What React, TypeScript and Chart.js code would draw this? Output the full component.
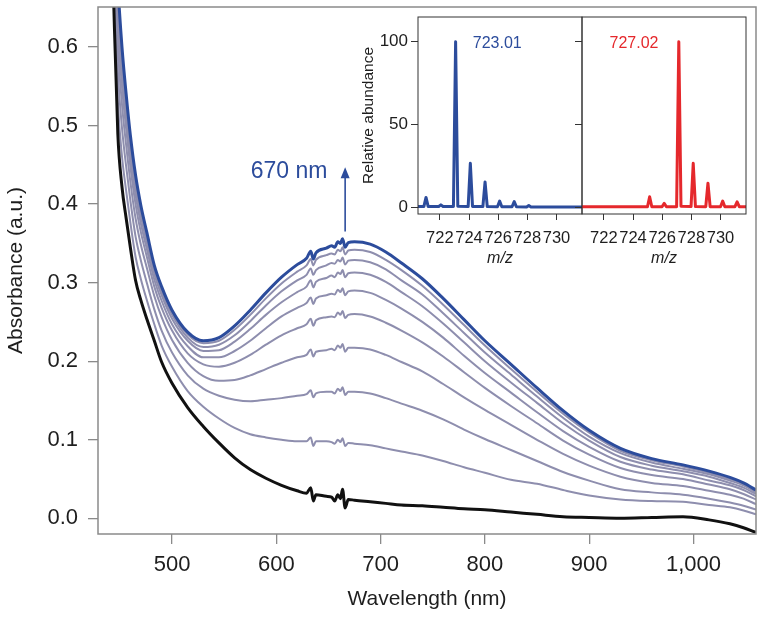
import React, { useEffect, useRef } from "react";
import { Chart, registerables } from "chart.js";

Chart.register(...registerables);

const FONT = '"Liberation Sans", Arial, Helvetica, sans-serif';
const BLUE = "#2c4c9c";
const RED = "#e5282c";
const GREY = "#8e8eae";
const TEXT = "#1e1e1e";
const FRAME = "#8a8a8a";
const INSET_FRAME = "#333333";

// ---------- main UV-vis spectra ----------
const WAVELENGTH = [440, 444, 448, 452, 456, 460, 465, 470, 476, 483, 490, 500, 515, 530, 545, 560, 575, 590, 605, 620, 629, 633, 635.5, 638, 648, 653, 656, 659, 661.5, 663.5, 666, 669, 675, 690, 705, 720, 740, 760, 780, 800, 825, 850, 875, 900, 930, 960, 990, 1015, 1035, 1048, 1060];

const ABS_FINAL = [0.95, 0.79, 0.68, 0.6, 0.54, 0.488, 0.437, 0.399, 0.363, 0.322, 0.295, 0.265, 0.237, 0.226, 0.23, 0.245, 0.265, 0.287, 0.307, 0.323, 0.331, 0.34, 0.33, 0.338, 0.344, 0.347, 0.345, 0.352, 0.35, 0.356, 0.345, 0.351, 0.352, 0.349, 0.339, 0.325, 0.305, 0.28, 0.253, 0.226, 0.196, 0.166, 0.137, 0.112, 0.089, 0.076, 0.068, 0.06, 0.052, 0.045, 0.036];

const ABS_START = [0.86, 0.66, 0.49, 0.422, 0.382, 0.345, 0.303, 0.278, 0.253, 0.226, 0.199, 0.172, 0.141, 0.117, 0.096, 0.077, 0.062, 0.051, 0.042, 0.035, 0.032, 0.039, 0.022, 0.03, 0.028, 0.027, 0.022, 0.03, 0.025, 0.037, 0.013, 0.024, 0.023, 0.021, 0.019, 0.017, 0.016, 0.014, 0.012, 0.011, 0.008, 0.005, 0.002, 0.001, 0.0, 0.001, 0.002, -0.002, -0.007, -0.012, -0.018];

const ABS_T1 = [0.88, 0.689, 0.532, 0.461, 0.417, 0.377, 0.333, 0.305, 0.277, 0.247, 0.22, 0.193, 0.162, 0.142, 0.127, 0.115, 0.107, 0.103, 0.1, 0.098, 0.098, 0.103, 0.092, 0.098, 0.098, 0.097, 0.095, 0.1, 0.097, 0.102, 0.092, 0.096, 0.095, 0.093, 0.089, 0.085, 0.08, 0.073, 0.065, 0.058, 0.049, 0.044, 0.036, 0.029, 0.024, 0.022, 0.021, 0.017, 0.014, 0.01, 0.005];

const ABS_T2 = [0.898, 0.715, 0.57, 0.497, 0.448, 0.405, 0.359, 0.329, 0.299, 0.266, 0.239, 0.211, 0.182, 0.165, 0.156, 0.151, 0.149, 0.151, 0.153, 0.156, 0.158, 0.163, 0.154, 0.159, 0.161, 0.161, 0.159, 0.165, 0.162, 0.167, 0.157, 0.161, 0.161, 0.159, 0.153, 0.146, 0.137, 0.126, 0.113, 0.101, 0.087, 0.073, 0.059, 0.048, 0.037, 0.033, 0.03, 0.025, 0.02, 0.016, 0.011];

const ABS_T3 = [0.913, 0.737, 0.602, 0.527, 0.475, 0.429, 0.382, 0.349, 0.318, 0.283, 0.256, 0.227, 0.198, 0.181, 0.175, 0.176, 0.182, 0.19, 0.198, 0.205, 0.208, 0.215, 0.206, 0.212, 0.214, 0.216, 0.214, 0.22, 0.217, 0.222, 0.212, 0.217, 0.217, 0.215, 0.208, 0.199, 0.187, 0.171, 0.154, 0.138, 0.119, 0.1, 0.082, 0.067, 0.053, 0.045, 0.041, 0.035, 0.03, 0.025, 0.018];

const ABS_T4 = [0.925, 0.754, 0.627, 0.55, 0.496, 0.448, 0.4, 0.365, 0.332, 0.295, 0.268, 0.239, 0.21, 0.196, 0.193, 0.198, 0.208, 0.221, 0.233, 0.242, 0.247, 0.254, 0.245, 0.252, 0.256, 0.257, 0.256, 0.262, 0.259, 0.264, 0.255, 0.259, 0.26, 0.257, 0.249, 0.239, 0.224, 0.206, 0.186, 0.166, 0.143, 0.121, 0.099, 0.081, 0.064, 0.055, 0.05, 0.043, 0.037, 0.031, 0.024];

const ABS_T5 = [0.933, 0.765, 0.644, 0.566, 0.51, 0.461, 0.412, 0.376, 0.342, 0.304, 0.277, 0.247, 0.219, 0.205, 0.205, 0.213, 0.226, 0.242, 0.257, 0.268, 0.274, 0.281, 0.273, 0.28, 0.284, 0.286, 0.285, 0.291, 0.288, 0.293, 0.284, 0.289, 0.29, 0.287, 0.278, 0.267, 0.25, 0.23, 0.207, 0.185, 0.16, 0.135, 0.111, 0.091, 0.072, 0.062, 0.056, 0.048, 0.042, 0.036, 0.028];

const ABS_T6 = [0.939, 0.774, 0.657, 0.579, 0.521, 0.471, 0.421, 0.385, 0.35, 0.311, 0.284, 0.254, 0.226, 0.213, 0.214, 0.225, 0.241, 0.259, 0.275, 0.288, 0.295, 0.303, 0.294, 0.301, 0.306, 0.309, 0.307, 0.313, 0.311, 0.316, 0.307, 0.312, 0.313, 0.31, 0.301, 0.288, 0.27, 0.248, 0.224, 0.2, 0.173, 0.147, 0.121, 0.099, 0.078, 0.067, 0.06, 0.053, 0.045, 0.039, 0.031];

const ABS_T7 = [0.944, 0.781, 0.667, 0.588, 0.529, 0.478, 0.428, 0.391, 0.355, 0.315, 0.288, 0.259, 0.23, 0.218, 0.221, 0.233, 0.251, 0.271, 0.289, 0.303, 0.31, 0.318, 0.31, 0.316, 0.322, 0.325, 0.324, 0.329, 0.327, 0.332, 0.323, 0.328, 0.329, 0.326, 0.317, 0.303, 0.285, 0.261, 0.236, 0.211, 0.183, 0.155, 0.128, 0.104, 0.083, 0.071, 0.063, 0.056, 0.048, 0.042, 0.033];

const ABS_T8 = [0.947, 0.786, 0.674, 0.595, 0.535, 0.484, 0.433, 0.395, 0.36, 0.319, 0.292, 0.262, 0.234, 0.223, 0.226, 0.24, 0.259, 0.28, 0.299, 0.314, 0.322, 0.33, 0.322, 0.329, 0.335, 0.337, 0.336, 0.342, 0.34, 0.345, 0.336, 0.341, 0.342, 0.339, 0.329, 0.316, 0.296, 0.272, 0.246, 0.22, 0.19, 0.161, 0.133, 0.109, 0.086, 0.074, 0.066, 0.058, 0.05, 0.044, 0.035];

const X_TICKS = [500, 600, 700, 800, 900, 1000];
const Y_TICKS = [0, 0.1, 0.2, 0.3, 0.4, 0.5, 0.6];
const X_RANGE = [429, 1060];
const Y_RANGE = [-0.02, 0.651];

const ARROW_NM = 666;
const ARROW_FROM = 0.365;
const ARROW_TO = 0.447;
const ARROW_LABEL = "670 nm";
const ARROW_LABEL_NM = 649;
const ARROW_LABEL_ABS = 0.441;

// ---------- inset mass spectra ----------
const MZ_A = [720.5, 720.9, 721.05, 721.2, 721.92, 722.07, 722.22, 722.93, 723.08, 723.23, 723.94, 724.09, 724.24, 724.95, 725.1, 725.25, 725.95, 726.1, 726.25, 726.95, 727.1, 727.25, 727.95, 728.1, 728.25, 731.75];
const ABUND_A = [0.3, 0.3, 5.8, 0.3, 0.3, 1.3, 0.3, 0.3, 100, 0.5, 0.3, 26.5, 0.4, 0.3, 15.2, 0.3, 0.2, 3.6, 0.2, 0.2, 3.3, 0.2, 0.1, 1.0, 0.1, 0.1];
const MZ_B = [720.5, 724.99, 725.14, 725.29, 725.99, 726.14, 726.29, 726.99, 727.14, 727.29, 727.98, 728.13, 728.28, 728.99, 729.14, 729.29, 730.0, 730.15, 730.3, 730.99, 731.14, 731.29, 731.75];
const ABUND_B = [0.2, 0.2, 6.2, 0.2, 0.2, 2.2, 0.2, 0.2, 100, 0.5, 0.3, 26.5, 0.3, 0.2, 14.4, 0.2, 0.2, 3.6, 0.2, 0.2, 3.2, 0.2, 0.2];
const MZ_TICKS = [722, 724, 726, 728, 730];
const AB_TICKS = [0, 50, 100];
const MZ_RANGE = [720.5, 731.75];
const AB_RANGE = [-4.2, 115];
const LABEL_A = "723.01";
const LABEL_B = "727.02";
const LABEL_A_POS = [724.26, 99];
const LABEL_B_POS = [722.39, 99];

const fixBox = (w: number | null, h: number | null) => (s: any) => {
  if (w !== null) s.width = w;
  if (h !== null) s.height = h;
  s.paddingTop = 0;
  s.paddingBottom = 0;
  s.paddingLeft = 0;
  s.paddingRight = 0;
};

const setTicks = (vals: number[]) => (s: any) => {
  s.ticks = vals.map((v) => ({ value: v }));
};

const framePlugin = (color: string, width: number) => ({
  id: "frame",
  afterDraw(chart: any) {
    const { ctx, chartArea: a } = chart;
    ctx.save();
    ctx.strokeStyle = color;
    ctx.lineWidth = width;
    ctx.strokeRect(a.left, a.top, a.right - a.left, a.bottom - a.top);
    ctx.restore();
  },
});

const arrowPlugin = {
  id: "arrow",
  afterDraw(chart: any) {
    const { ctx, scales } = chart;
    const x = scales.x;
    const y = scales.y;
    const ax = x.getPixelForValue(ARROW_NM);
    const y0 = y.getPixelForValue(ARROW_FROM);
    const y1 = y.getPixelForValue(ARROW_TO);
    ctx.save();
    ctx.strokeStyle = BLUE;
    ctx.fillStyle = BLUE;
    ctx.lineWidth = 1.6;
    ctx.beginPath();
    ctx.moveTo(ax, y0);
    ctx.lineTo(ax, y1 + 8);
    ctx.stroke();
    ctx.beginPath();
    ctx.moveTo(ax, y1);
    ctx.lineTo(ax - 4.5, y1 + 11);
    ctx.lineTo(ax + 4.5, y1 + 11);
    ctx.closePath();
    ctx.fill();
    ctx.font = `23px ${FONT}`;
    ctx.textAlign = "right";
    ctx.textBaseline = "middle";
    ctx.fillText(ARROW_LABEL, x.getPixelForValue(ARROW_LABEL_NM), y.getPixelForValue(ARROW_LABEL_ABS));
    ctx.restore();
  },
};

const peakLabelPlugin = (text: string, pos: number[], color: string) => ({
  id: "peakLabel",
  afterDraw(chart: any) {
    const { ctx, scales } = chart;
    ctx.save();
    ctx.fillStyle = color;
    ctx.font = `16px ${FONT}`;
    ctx.textAlign = "left";
    ctx.textBaseline = "middle";
    ctx.fillText(text, scales.x.getPixelForValue(pos[0]), scales.y.getPixelForValue(pos[1]));
    ctx.restore();
  },
});

function buildMain(canvas: HTMLCanvasElement) {
  const series = [
    { v: ABS_FINAL, c: BLUE, w: 3 },
    { v: ABS_START, c: "#111111", w: 3 },
    { v: ABS_T8, c: GREY, w: 2 },
    { v: ABS_T7, c: GREY, w: 2 },
    { v: ABS_T6, c: GREY, w: 2 },
    { v: ABS_T5, c: GREY, w: 2 },
    { v: ABS_T4, c: GREY, w: 2 },
    { v: ABS_T3, c: GREY, w: 2 },
    { v: ABS_T2, c: GREY, w: 2 },
    { v: ABS_T1, c: GREY, w: 2 },
  ];
  const datasets = series.map((s) => ({
    data: WAVELENGTH.map((w, i) => ({ x: w, y: s.v[i] })),
    borderColor: s.c,
    borderWidth: s.w,
    pointRadius: 0,
    fill: false,
    cubicInterpolationMode: "monotone" as const,
  }));
  return new Chart(canvas, {
    type: "line",
    data: { datasets },
    options: {
      animation: false,
      responsive: false,
      events: [],
      layout: { padding: { left: 0, right: 8, top: 7, bottom: 0 } },
      plugins: { legend: { display: false }, tooltip: { enabled: false } },
      scales: {
        x: {
          type: "linear",
          min: X_RANGE[0],
          max: X_RANGE[1],
          afterBuildTicks: setTicks(X_TICKS),
          afterFit: fixBox(null, 86),
          border: { display: false },
          grid: { drawOnChartArea: false, drawTicks: true, tickLength: 10, color: FRAME, lineWidth: 1.3 },
          ticks: {
            color: TEXT,
            font: { family: FONT, size: 22 },
            padding: 8,
            maxRotation: 0,
            callback: (v: any) => Number(v).toLocaleString("en-US"),
          },
          title: {
            display: true,
            text: "Wavelength (nm)",
            color: TEXT,
            font: { family: FONT, size: 21 },
            padding: { top: 0, bottom: 8 },
          },
        },
        y: {
          type: "linear",
          min: Y_RANGE[0],
          max: Y_RANGE[1],
          afterBuildTicks: setTicks(Y_TICKS),
          afterFit: fixBox(98, null),
          border: { display: false },
          grid: { drawOnChartArea: false, drawTicks: true, tickLength: 10, color: FRAME, lineWidth: 1.3 },
          ticks: {
            color: TEXT,
            font: { family: FONT, size: 22 },
            padding: 10,
            callback: (v: any) => Number(v).toFixed(1),
          },
          title: {
            display: true,
            text: "Absorbance (a.u.)",
            color: TEXT,
            font: { family: FONT, size: 21 },
            padding: { top: 4, bottom: 0 },
          },
        },
      },
    },
    plugins: [framePlugin(FRAME, 1.5), arrowPlugin],
  } as any);
}

function buildInset(
  canvas: HTMLCanvasElement,
  mz: number[],
  ab: number[],
  color: string,
  label: string,
  labelPos: number[],
  yWidth: number,
  padRight: number,
  showY: boolean
) {
  return new Chart(canvas, {
    type: "line",
    data: {
      datasets: [
        {
          data: mz.map((m, i) => ({ x: m, y: ab[i] })),
          borderColor: color,
          borderWidth: 3,
          pointRadius: 0,
          fill: false,
          tension: 0,
          borderJoinStyle: "round",
        },
      ],
    },
    options: {
      animation: false,
      responsive: false,
      events: [],
      layout: { padding: { left: 0, right: padRight, top: 9, bottom: 0 } },
      plugins: { legend: { display: false }, tooltip: { enabled: false } },
      scales: {
        x: {
          type: "linear",
          min: MZ_RANGE[0],
          max: MZ_RANGE[1],
          afterBuildTicks: setTicks(MZ_TICKS),
          afterFit: fixBox(null, 64),
          border: { display: false },
          grid: { drawOnChartArea: false, drawTicks: true, tickLength: 6, color: INSET_FRAME, lineWidth: 1 },
          ticks: { color: TEXT, font: { family: FONT, size: 16.5 }, padding: 9, maxRotation: 0, callback: (v: any) => String(v) },
          title: {
            display: true,
            text: "m/z",
            color: TEXT,
            font: { family: FONT, size: 16, style: "italic" },
            padding: { top: 0, bottom: 10 },
          },
        },
        y: {
          type: "linear",
          min: AB_RANGE[0],
          max: AB_RANGE[1],
          afterBuildTicks: setTicks(AB_TICKS),
          afterFit: fixBox(yWidth, null),
          border: { display: false },
          grid: { drawOnChartArea: false, drawTicks: true, tickLength: 7, color: INSET_FRAME, lineWidth: 1 },
          ticks: { display: showY, color: TEXT, font: { family: FONT, size: 17 }, padding: 3, callback: (v: any) => String(v) },
          title: {
            display: showY,
            text: "Relative abundance",
            color: TEXT,
            font: { family: FONT, size: 15.5 },
            padding: { top: 29, bottom: 0 },
          },
        },
      },
    },
    plugins: [framePlugin(INSET_FRAME, 1), peakLabelPlugin(label, labelPos, color)],
  } as any);
}

export default function App() {
  const mainRef = useRef<HTMLCanvasElement>(null);
  const leftRef = useRef<HTMLCanvasElement>(null);
  const rightRef = useRef<HTMLCanvasElement>(null);

  useEffect(() => {
    const charts: Chart[] = [];
    if (mainRef.current) charts.push(buildMain(mainRef.current));
    if (leftRef.current)
      charts.push(buildInset(leftRef.current, MZ_A, ABUND_A, BLUE, LABEL_A, LABEL_A_POS, 88, 8, true));
    if (rightRef.current)
      charts.push(buildInset(rightRef.current, MZ_B, ABUND_B, RED, LABEL_B, LABEL_B_POS, 22, 14, false));
    return () => charts.forEach((c) => c.destroy());
  }, []);

  return (
    <div style={{ position: "absolute", left: 0, top: 0, width: 764, height: 620, background: "#ffffff" }}>
      <canvas ref={mainRef} width={764} height={620} style={{ position: "absolute", left: 0, top: 0 }} />
      <canvas ref={leftRef} width={260} height={270} style={{ position: "absolute", left: 330, top: 8 }} />
      <canvas ref={rightRef} width={200} height={270} style={{ position: "absolute", left: 560, top: 8 }} />
    </div>
  );
}
